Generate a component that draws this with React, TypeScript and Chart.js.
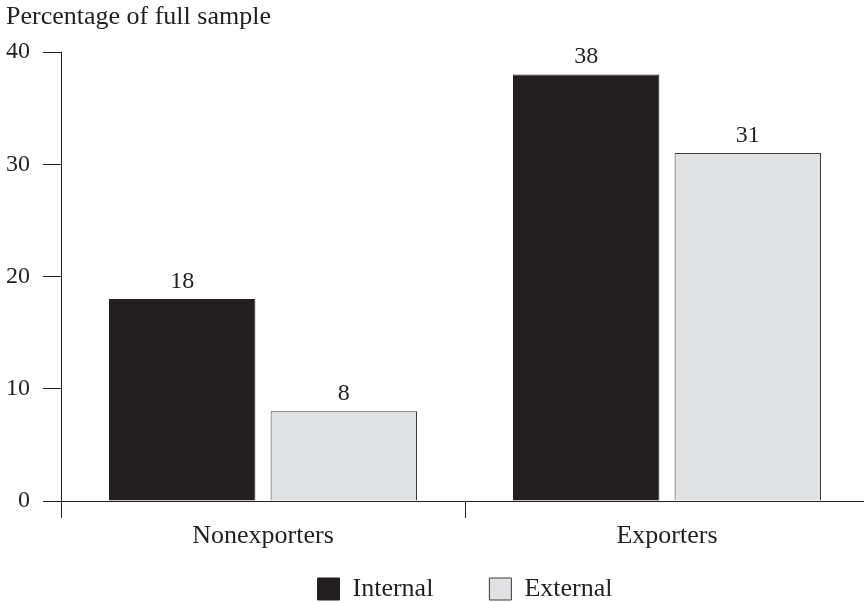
import React, { useEffect, useRef } from "react";
import { Chart, registerables } from "chart.js";

Chart.register(...registerables);

const categories = ["Nonexporters", "Exporters"];
const internalValues = [18, 38];
const externalValues = [8, 31];
const yTicks = [0, 10, 20, 30, 40];
const seriesNames = ["Internal", "External"];
const yAxisTitle = "Percentage of full sample";

const INK = "#231f20";
const LIGHT = "#e0e1e3";
const FONT = "'Liberation Serif', 'Times New Roman', serif";

export default function App() {
  const ref = useRef<HTMLCanvasElement>(null);

  useEffect(() => {
    if (!ref.current) return;

    const titlePlugin = {
      id: "topTitle",
      afterDraw(chart: any) {
        const ctx = chart.ctx;
        ctx.save();
        ctx.font = `26px ${FONT}`;
        ctx.fillStyle = INK;
        ctx.textAlign = "left";
        ctx.textBaseline = "alphabetic";
        ctx.fillText(yAxisTitle, 6, 24);
        ctx.restore();
      },
    };

    const legendShift = {
      id: "legendShift",
      afterLayout(chart: any) {
        const l = chart.legend;
        if (l) {
          l.top -= 32;
          l.bottom -= 32;
        }
      },
    };

    const valuePlugin = {
      id: "valueLabels",
      afterDatasetsDraw(chart: any) {
        const ctx = chart.ctx;
        ctx.save();
        ctx.font = `24px ${FONT}`;
        ctx.fillStyle = INK;
        ctx.textAlign = "center";
        ctx.textBaseline = "alphabetic";
        chart.data.datasets.forEach((ds: any, i: number) => {
          const meta = chart.getDatasetMeta(i);
          meta.data.forEach((bar: any, j: number) => {
            ctx.fillText(String(ds.data[j]), bar.x, bar.y - 11);
          });
        });
        ctx.restore();
      },
    };

    const chart = new Chart(ref.current, {
      type: "bar",
      data: {
        labels: categories,
        datasets: [
          {
            label: seriesNames[0],
            data: internalValues,
            backgroundColor: INK,
            borderColor: INK,
            borderWidth: 1,
            barPercentage: 0.906,
            categoryPercentage: 0.8,
          },
          {
            label: seriesNames[1],
            data: externalValues,
            backgroundColor: LIGHT,
            borderColor: "#3a3a3a",
            borderWidth: 1,
            barPercentage: 0.906,
            categoryPercentage: 0.8,
          },
        ],
      },
      options: {
        responsive: false,
        animation: false,
        layout: { padding: { top: 52, left: 0, right: 0, bottom: 0 } },
        plugins: {
          legend: {
            position: "bottom",
            fullSize: false,
            labels: {
              boxWidth: 22,
              boxHeight: 22,
              padding: 56,
              color: INK,
              font: { family: FONT, size: 26 },
            },
          },
          tooltip: { enabled: false },
          title: { display: false },
        },
        scales: {
          x: {
            grid: {
              display: true,
              drawOnChartArea: false,
              offset: true,
              tickLength: 17,
              color: INK,
              lineWidth: 1,
            },
            border: { display: true, color: INK, width: 1 },
            ticks: { color: INK, font: { family: FONT, size: 26 }, padding: 3 },
            afterFit: (s: any) => {
              s.height = 51;
            },
          },
          y: {
            min: 0,
            max: 40,
            afterBuildTicks: (s: any) => {
              s.ticks = yTicks.map((v) => ({ value: v }));
            },
            grid: {
              display: true,
              drawOnChartArea: false,
              tickLength: 18,
              color: INK,
              lineWidth: 1,
            },
            border: { display: true, color: INK, width: 1 },
            ticks: { color: INK, font: { family: FONT, size: 24 }, padding: 13 },
            afterFit: (s: any) => {
              s.width = 61;
            },
          },
        },
      } as any,
      plugins: [titlePlugin, valuePlugin, legendShift],
    });

    return () => chart.destroy();
  }, []);

  return (
    <div
      style={{
        position: "fixed",
        left: 0,
        top: 0,
        width: 864,
        height: 602,
        overflow: "hidden",
        background: "#fff",
      }}
    >
      <canvas
        ref={ref}
        width={869}
        height={644}
        style={{ display: "block", width: 869, height: 644 }}
      />
    </div>
  );
}
